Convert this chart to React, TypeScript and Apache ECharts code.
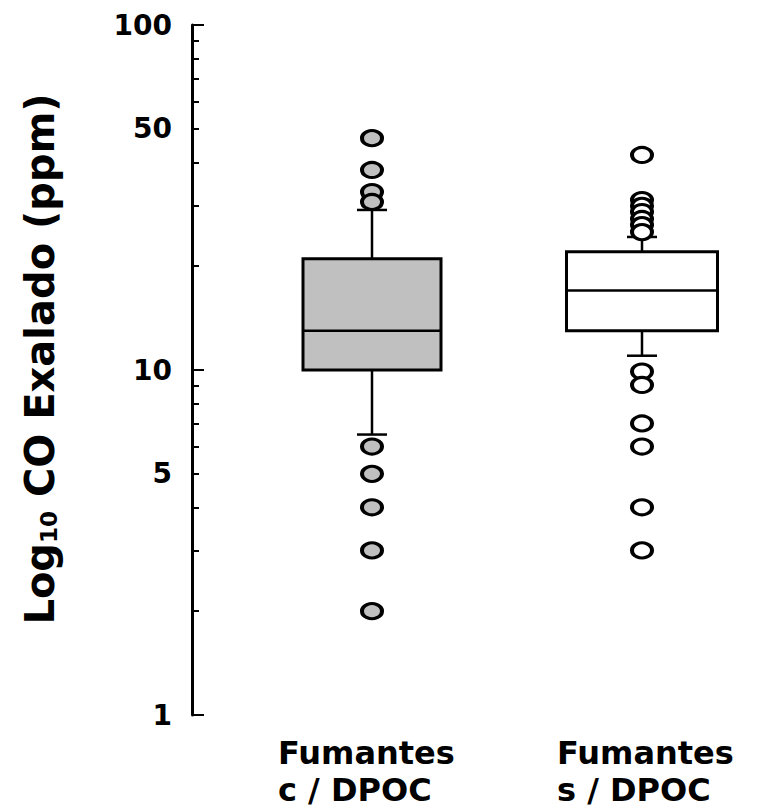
import React, { useEffect, useRef } from "react";
import * as echarts from "echarts";

const categories = ["Fumantes\nc / DPOC", "Fumantes\ns / DPOC"];
const whiskerLow = [6.5, 11];
const q1 = [10, 13];
const median = [13, 17];
const q3 = [21, 22];
const whiskerHigh = [29.1, 24.3];
const boxFill = ["#c0c0c0", "#ffffff"];
const outliersCDPOC = [47, 38, 32.8, 30.7, 6, 5, 4, 3, 2];
const outliersSDPOC = [42, 31.1, 29.9, 28.7, 27.4, 26.3, 25.1, 9.9, 9.05, 7, 6, 4, 3];
const majorTicks = [1, 10, 100];
const minorTicks = [2, 3, 4, 5, 6, 7, 8, 9, 20, 30, 40, 50, 60, 70, 80, 90];
const tickLabels = [1, 5, 10, 50, 100];

const FONT = '"DejaVu Sans", Verdana, sans-serif';
const boxWidthPx = [138, 151];
const labelLeft = [278, 557];

export default function App() {
  const ref = useRef<HTMLDivElement>(null);
  useEffect(() => {
    document.body.style.margin = "0";
    if (!ref.current) return;
    const chart = echarts.init(ref.current, null, { renderer: "svg" });
    const boxData = categories.map((_, i) => [i + 1, whiskerLow[i], q1[i], median[i], q3[i], whiskerHigh[i]]);
    const labelGraphics: any[] = [];
    categories.forEach((c, i) => {
      c.split("\n").forEach((line, j) => {
        labelGraphics.push({
          type: "text",
          left: labelLeft[i],
          top: 737 + j * 37,
          style: { text: line, font: `bold 32px ${FONT}`, lineHeight: 32, fill: "#000", textAlign: "left" },
        });
      });
    });
    const option: any = {
      animation: false,
      backgroundColor: "#ffffff",
      grid: { left: 192, top: 25, width: 540, height: 690, containLabel: false, outerBoundsMode: "none" },
      xAxis: {
        type: "value",
        min: 1 / 3,
        max: 7 / 3,
        show: false,
      },
      yAxis: [
        {
          type: "log",
          logBase: 10,
          min: 1,
          max: 100,
          position: "left",
          name: "{main|Log}{sub|10}{main| CO Exalado (ppm)}",
          nameLocation: "middle",
          nameGap: 132,
          nameRotate: 90,
          nameTextStyle: {
            padding: [0, 0, 0, 22],
            rich: {
              main: { fontFamily: FONT, fontWeight: "bold", fontSize: 40, lineHeight: 42, verticalAlign: "bottom", color: "#000" },
              sub: { fontFamily: FONT, fontWeight: "bold", fontSize: 23, lineHeight: 20, verticalAlign: "bottom", color: "#000" },
            },
          },
          axisLine: { show: true, lineStyle: { color: "#000", width: 3 } },
          axisTick: { show: true, inside: true, length: 12, customValues: majorTicks, lineStyle: { color: "#000", width: 2 } },
          minorTick: { show: false },
          axisLabel: {
            show: true,
            customValues: tickLabels,
            margin: 20,
            fontFamily: FONT,
            fontWeight: "bold",
            fontSize: 28,
            color: "#000",
            formatter: (v: number) => String(Math.round(v)),
          },
          splitLine: { show: false },
        },
        {
          type: "log",
          logBase: 10,
          min: 1,
          max: 100,
          position: "left",
          axisLine: { show: false },
          axisTick: { show: true, inside: true, length: 7, customValues: minorTicks, lineStyle: { color: "#000", width: 2 } },
          axisLabel: { show: false },
          splitLine: { show: false },
        },
      ],
      graphic: labelGraphics,
      series: [
        {
          type: "custom",
          xAxisIndex: 0,
          yAxisIndex: 0,
          z: 2,
          encode: { x: 0, y: [1, 2, 3, 4, 5] },
          data: boxData,
          renderItem: (params: any, api: any) => {
            const x = api.value(0);
            const pLo = api.coord([x, api.value(1)]);
            const pQ1 = api.coord([x, api.value(2)]);
            const pMed = api.coord([x, api.value(3)]);
            const pQ3 = api.coord([x, api.value(4)]);
            const pHi = api.coord([x, api.value(5)]);
            const cx = pQ1[0];
            const halfW = boxWidthPx[params.dataIndex] / 2;
            const capHalf = 15;
            const ls = { stroke: "#000", lineWidth: 2.5 };
            return {
              type: "group",
              children: [
                { type: "line", shape: { x1: cx, y1: pHi[1], x2: cx, y2: pQ3[1] }, style: ls },
                { type: "line", shape: { x1: cx, y1: pQ1[1], x2: cx, y2: pLo[1] }, style: ls },
                { type: "line", shape: { x1: cx - capHalf, y1: pHi[1], x2: cx + capHalf, y2: pHi[1] }, style: ls },
                { type: "line", shape: { x1: cx - capHalf, y1: pLo[1], x2: cx + capHalf, y2: pLo[1] }, style: ls },
                {
                  type: "rect",
                  shape: { x: cx - halfW, y: pQ3[1], width: halfW * 2, height: pQ1[1] - pQ3[1] },
                  style: { fill: boxFill[params.dataIndex], stroke: "#000", lineWidth: 3 },
                },
                { type: "line", shape: { x1: cx - halfW, y1: pMed[1], x2: cx + halfW, y2: pMed[1] }, style: ls },
              ],
            };
          },
        },
        {
          type: "scatter",
          xAxisIndex: 0,
          yAxisIndex: 0,
          z: 3,
          symbol: "circle",
          symbolSize: [20, 15],
          itemStyle: { color: boxFill[0], borderColor: "#000", borderWidth: 3.5, opacity: 1 },
          data: outliersCDPOC.map((v) => [1, v]),
        },
        {
          type: "scatter",
          xAxisIndex: 0,
          yAxisIndex: 0,
          z: 3,
          symbol: "circle",
          symbolSize: [20, 15],
          itemStyle: { color: boxFill[1], borderColor: "#000", borderWidth: 3.5, opacity: 1 },
          data: outliersSDPOC.map((v) => [2, v]),
        },
      ],
    };
    chart.setOption(option);
    return () => chart.dispose();
  }, []);
  return <div ref={ref} style={{ width: 774, height: 812 }} />;
}
